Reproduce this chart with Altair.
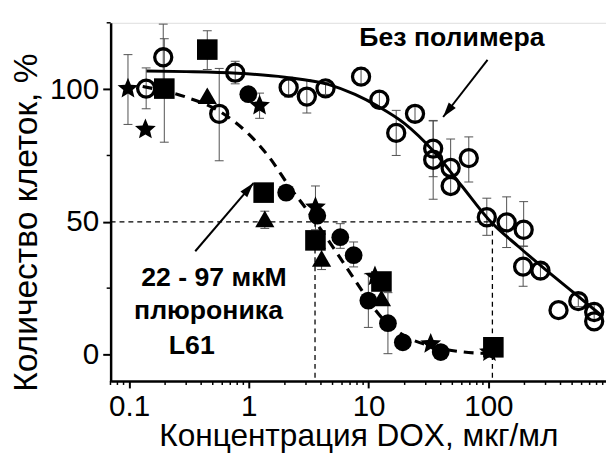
import altair as alt
import pandas as pd

# ---- data ----
# open circles: no polymer
free_x = [0.139, 0.193, 0.566, 0.77, 2.15, 3.05, 4.37, 8.65, 12.3, 17, 24.4, 34.6, 34.6, 48.4, 48.4, 68.6, 97, 142, 197, 195, 272, 385, 563, 764, 764]
free_y = [100.2, 112, 90.7, 106.2, 100.6, 97.2, 100.3, 104.7, 96, 83.5, 90.7, 77.6, 73.4, 70.3, 63.5, 74, 51.7, 49.8, 47, 33.1, 31.6, 16.7, 20.1, 16, 12.5]
free_lo = [92.6, 99.5, 73, 102, 97, 91, 98, 101.5, 93, 75, 88, 67, 58.5, 60.4, None, 65, 44.9, 40.3, 40.8, 25.7, 29, None, 18, 13, None]
free_hi = [108, 124.5, 107.8, 110.5, 104.5, 103.5, 102.5, 108, 99, 92, 93.5, 88.2, 88, 81.2, None, 82, 58.9, 59.4, 57.6, 40.8, 34, None, 22.5, 19, None]

# filled symbols: with 22-97 uM pluronic L61
star_x = [0.098, 0.137, 1.23, 3.6, 11.3, 33, 102]
star_y = [100.2, 84.8, 93.8, 55.5, 29.4, 4.0, 0.9]
square_x = [0.197, 0.45, 1.33, 3.6, 12.8, 110]
square_y = [100.2, 114.9, 61, 43, 27.5, 2.7]
triangle_x = [0.45, 1.36, 4.05, 12.8]
triangle_y = [97.5, 51.1, 36.2, 21.3]
dot_x = [0.99, 2.05, 3.73, 5.8, 7.5, 9.95, 14.5, 19.3, 40]
dot_y = [98.1, 61, 52.3, 44.2, 37.4, 20.3, 11.8, 4.6, 0.9]

# error bars of the filled symbols
poly_err_x = [0.098, 1.23, 3.6, 0.197, 0.45, 1.36, 4.05, 5.8, 7.5, 9.95, 14.5]
poly_err_lo = [86.7, 89, 47, 80, 107.4, 47.5, 32, 40, 33, 10.2, 0.3]
poly_err_hi = [113, 98.5, 63.5, 119, 122, 54, 40, 49.3, 42.4, 30.4, 23.3]

# fitted curves
curve_free_x = [0.14, 0.3, 0.8, 2, 4.6, 7.7, 12, 20, 35, 60, 100, 180, 300, 500, 890]
curve_free_y = [106.8, 106.6, 106, 104.5, 101.8, 98, 93.5, 87, 76.5, 63.5, 51, 40.5, 32, 23.8, 14.5]
curve_poly_x = [0.13, 0.3, 0.6, 1.0, 1.5, 2.2, 3.0, 4.0, 5.3, 7.7, 12.8, 20, 31, 60, 105]
curve_poly_y = [101, 97, 91, 83, 74, 63, 55, 47, 39, 28, 14, 7, 3.5, 1, 0.3]

# IC50 guide lines
ref_x = [0.0702, 3.57, 108]
ref_x2 = [108, 3.57, 108]
ref_y = [50, 50, 50]
ref_y2 = [50, -10, -10]

# annotations
label_text = ["Без полимера", "22 - 97 мкМ", "плюроника", "L61"]
label_x = [49.6, 0.512, 0.461, 0.334]
label_y = [116.4, 25.7, 13.2, 0.3]

arrow_x = [98.4, 0.357]
arrow_y = [111, 38.9]
arrow_x2 = [41.9, 1.093]
arrow_y2 = [89.5, 64.6]
arrow_angle = [218, 40.5]

x_major = [0.1, 1, 10, 100]
x_minor = [0.07, 0.08, 0.09, 0.2, 0.3, 0.4, 0.5, 0.6, 0.7, 0.8, 0.9,
           2, 3, 4, 5, 6, 7, 8, 9, 20, 30, 40, 50, 60, 70, 80, 90,
           200, 300, 400, 500, 600, 700, 800, 900]
y_major = [0, 50, 100]
y_minor = [25, 75, 125]

X_DOMAIN = [0.0702, 959]
Y_DOMAIN = [-10, 125]
FONT = "Liberation Sans"

STAR = ("M0,-1L0.264,-0.364L0.951,-0.309L0.428,0.139L0.588,0.809L0,0.45"
        "L-0.588,0.809L-0.428,0.139L-0.951,-0.309L-0.264,-0.364Z")
ARROW_HEAD = "M0,0L0.6,2L-0.6,2Z"

# ---- tables ----
free = pd.DataFrame({"x": free_x, "y": free_y, "lo": free_lo, "hi": free_hi})
free_err = free.dropna()
poly = pd.concat([
    pd.DataFrame({"x": star_x, "y": star_y, "g": "star"}),
    pd.DataFrame({"x": square_x, "y": square_y, "g": "square"}),
    pd.DataFrame({"x": triangle_x, "y": triangle_y, "g": "triangle"}),
    pd.DataFrame({"x": dot_x, "y": dot_y, "g": "dot"}),
], ignore_index=True)
poly_err = pd.DataFrame({"x": poly_err_x, "lo": poly_err_lo, "hi": poly_err_hi})
err = pd.concat([free_err[["x", "lo", "hi"]], poly_err], ignore_index=True)
cfree = pd.DataFrame({"x": curve_free_x, "y": curve_free_y})
cpoly = pd.DataFrame({"x": curve_poly_x, "y": curve_poly_y})
refs = pd.DataFrame({"x": ref_x, "x2": ref_x2, "y": ref_y, "y2": ref_y2})
labels = pd.DataFrame({"t": label_text, "x": label_x, "y": label_y})
arrows = pd.DataFrame({"x": arrow_x, "y": arrow_y, "x2": arrow_x2, "y2": arrow_y2, "a": arrow_angle})
xminor = pd.DataFrame({"x": x_minor, "y": Y_DOMAIN[0]})
yminor = pd.DataFrame({"x": X_DOMAIN[0], "y": y_minor})

xs = alt.Scale(type="log", domain=X_DOMAIN, nice=False)
ys = alt.Scale(domain=Y_DOMAIN, nice=False, zero=False)

x_axis = alt.Axis(orient="bottom", values=x_major, format="~g", grid=False,
                  tickSize=7, tickWidth=2, tickColor="black",
                  domainWidth=2.5, domainColor="black",
                  labelFont=FONT, labelFontSize=30, labelColor="black", labelPadding=4,
                  labelFlush=False, labelOverlap=False,
                  title="Концентрация DOX, мкг/мл", titleFont=FONT, titleFontSize=32,
                  titleFontWeight="normal", titleColor="black",
                  titleX=251, titleY=65, titleBaseline="alphabetic")
y_axis = alt.Axis(orient="left", values=y_major, grid=False,
                  tickSize=8, tickWidth=2, tickColor="black",
                  domainWidth=2.5, domainColor="black",
                  labelFont=FONT, labelFontSize=30, labelColor="black", labelPadding=4,
                  labelFlush=False, labelOverlap=False,
                  title="Количество клеток, %", titleFont=FONT, titleFontSize=34,
                  titleFontWeight="normal", titleColor="black",
                  titleX=-85, titleY=202, titleBaseline="middle")


def X(f="x"):
    return alt.X(f"{f}:Q", scale=xs, axis=x_axis)


def Y(f="y"):
    return alt.Y(f"{f}:Q", scale=ys, axis=y_axis)


ERR_COLOR = "#505050"

err_rule = alt.Chart(err).mark_rule(color=ERR_COLOR, strokeWidth=1).encode(
    x=X(), y=Y("lo"), y2="hi:Q")
err_cap_lo = alt.Chart(err).mark_rule(color=ERR_COLOR, strokeWidth=1, xOffset=-4.5, x2Offset=4.5).encode(
    x=X(), x2=alt.X2("x:Q"), y=Y("lo"))
err_cap_hi = alt.Chart(err).mark_rule(color=ERR_COLOR, strokeWidth=1, xOffset=-4.5, x2Offset=4.5).encode(
    x=X(), x2=alt.X2("x:Q"), y=Y("hi"))

# minor ticks just outside the axis lines
xminor_ticks = alt.Chart(xminor).mark_rule(color="black", strokeWidth=1.5, y2Offset=4).encode(
    x=X(), y=Y(), y2=alt.Y2("y:Q"))
yminor_ticks = alt.Chart(yminor).mark_rule(color="black", strokeWidth=1.5, xOffset=-4).encode(
    x=X(), x2=alt.X2("x:Q"), y=Y())

ref_rules = alt.Chart(refs).mark_rule(color="black", strokeWidth=1.3, strokeDash=[5, 4]).encode(
    x=X(), x2="x2:Q", y=Y(), y2="y2:Q")

line_free = alt.Chart(cfree).mark_line(color="black", strokeWidth=3, interpolate="monotone").encode(
    x=X(), y=Y())
line_poly = alt.Chart(cpoly).mark_line(color="black", strokeWidth=3.2, strokeDash=[10, 7],
                                       interpolate="monotone").encode(x=X(), y=Y())

pts_free = alt.Chart(free).mark_point(shape="circle", size=300, strokeWidth=3.3, color="black",
                                      filled=False, opacity=1).encode(x=X(), y=Y())

pts_poly = alt.Chart(poly).mark_point(filled=True, color="black", opacity=1).encode(
    x=X(), y=Y(),
    shape=alt.Shape("g:N", scale=alt.Scale(domain=["star", "square", "triangle", "dot"],
                                          range=[STAR, "square", "triangle-up", "circle"]), legend=None),
    size=alt.Size("g:N", scale=alt.Scale(domain=["star", "square", "triangle", "dot"],
                                        range=[490, 324, 520, 400]), legend=None))

arrow_lines = alt.Chart(arrows).mark_rule(color="black", strokeWidth=2).encode(
    x=X(), y=Y(), x2="x2:Q", y2="y2:Q")
arrow_heads = alt.Chart(arrows).mark_point(shape=ARROW_HEAD, filled=True, color="black",
                                           size=225, opacity=1).encode(
    x=X("x2"), y=Y("y2"), angle=alt.Angle("a:Q", scale=None))

texts = alt.Chart(labels).mark_text(font=FONT, fontSize=27, fontWeight="bold", color="black",
                                    align="center", baseline="alphabetic").encode(
    x=X(), y=Y(), text="t:N")

chart = alt.layer(
    err_rule, err_cap_lo, err_cap_hi, xminor_ticks, yminor_ticks, ref_rules, line_free, line_poly,
    pts_free, pts_poly, arrow_lines, arrow_heads, texts
).properties(
    width=502, height=363,
    padding={"left": 104, "top": 12, "right": 0, "bottom": 73},
    autosize=alt.AutoSizeParams(type="none"),
    background="white",
).configure_view(stroke=None).configure(font=FONT)

chart.save("out.html", embed_options={"renderer": "svg", "actions": False})
